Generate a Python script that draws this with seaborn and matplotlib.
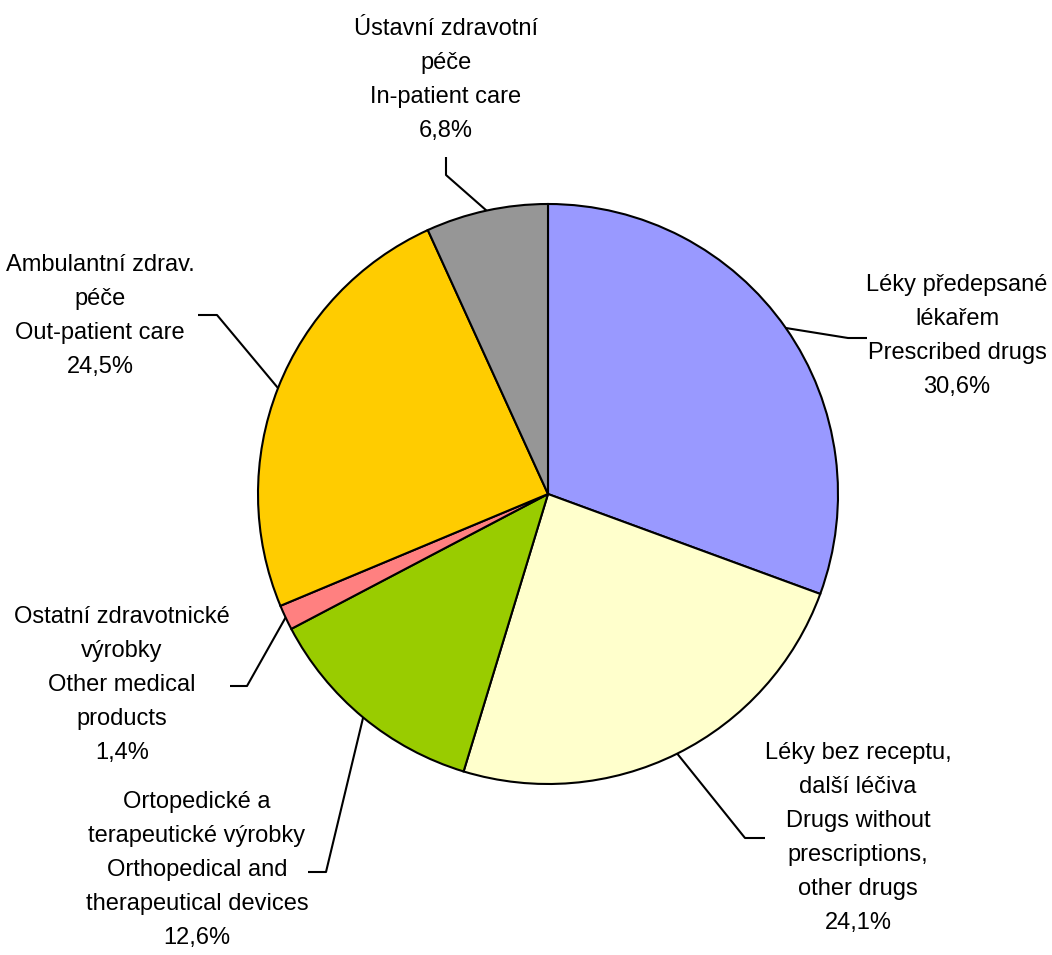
import numpy as np
import matplotlib
matplotlib.use("Agg")
import matplotlib.pyplot as plt
from matplotlib import font_manager
import seaborn as sns

# ---- data ----
labels_cz = ["Léky předepsané\nlékařem", "Léky bez receptu,\ndalší léčiva",
             "Ortopedické a\nterapeutické výrobky", "Ostatní zdravotnické\nvýrobky",
             "Ambulantní zdrav.\npéče", "Ústavní zdravotní\npéče"]
labels_en = ["Prescribed drugs", "Drugs without\nprescriptions,\nother drugs",
             "Orthopedical and\ntherapeutical devices", "Other medical\nproducts",
             "Out-patient care", "In-patient care"]
values = [30.6, 24.1, 12.6, 1.4, 24.5, 6.8]
colors = ["#9999FF", "#FFFFCC", "#99CC00", "#FF8080", "#FFCC00", "#969696"]

# ---- layout (pixel units, y measured downward from top) ----
W, H = 1052, 955
CX, CY, R = 548, 494, 290
# label centre, leader elbow, leader end (pixel coords)
text_pos = [(957, 336), (858, 838), (197, 870), (122, 685), (100, 316), (446, 80)]
elbows = [(848, 338), (745, 838), (326, 872), (247, 686), (217, 315), (446, 175)]
ends = [(867, 338), (765, 838), (308, 872), (230, 686), (198, 315), (446, 157)]

sns.set_theme(style="white")
avail = {f.name for f in font_manager.fontManager.ttflist}
fam = "Liberation Sans Narrow" if "Liberation Sans Narrow" in avail else "Liberation Sans"
plt.rcParams["font.family"] = [fam, "DejaVu Sans"]

fig = plt.figure(figsize=(W / 100, H / 100), dpi=100)
ax = fig.add_axes([0, 0, 1, 1])
fy = lambda y: H - y

wedges, _ = ax.pie(values, colors=colors, startangle=90, counterclock=False,
                   center=(CX, fy(CY)), radius=R,
                   wedgeprops=dict(edgecolor="black", linewidth=1.5))
ax.set_xlim(0, W)
ax.set_ylim(0, H)
ax.set_aspect("equal")
ax.axis("off")

for i, w in enumerate(wedges):
    ang = np.deg2rad((w.theta1 + w.theta2) / 2)
    x0 = CX + R * np.cos(ang)
    y0 = fy(CY) + R * np.sin(ang)
    ex, ey = elbows[i]
    nx, ny = ends[i]
    ax.plot([x0, ex, nx], [y0, fy(ey), fy(ny)], color="black", lw=1.5,
            solid_capstyle="butt")
    pct = f"{values[i]:.1f}%".replace(".", ",")
    txt = f"{labels_cz[i]}\n{labels_en[i]}\n{pct}"
    tx, ty = text_pos[i]
    ax.text(tx, fy(ty), txt, ha="center", va="center", fontsize=17,
            linespacing=1.7, color="black", multialignment="center")

fig.savefig("out.png", dpi=100, facecolor="white")
